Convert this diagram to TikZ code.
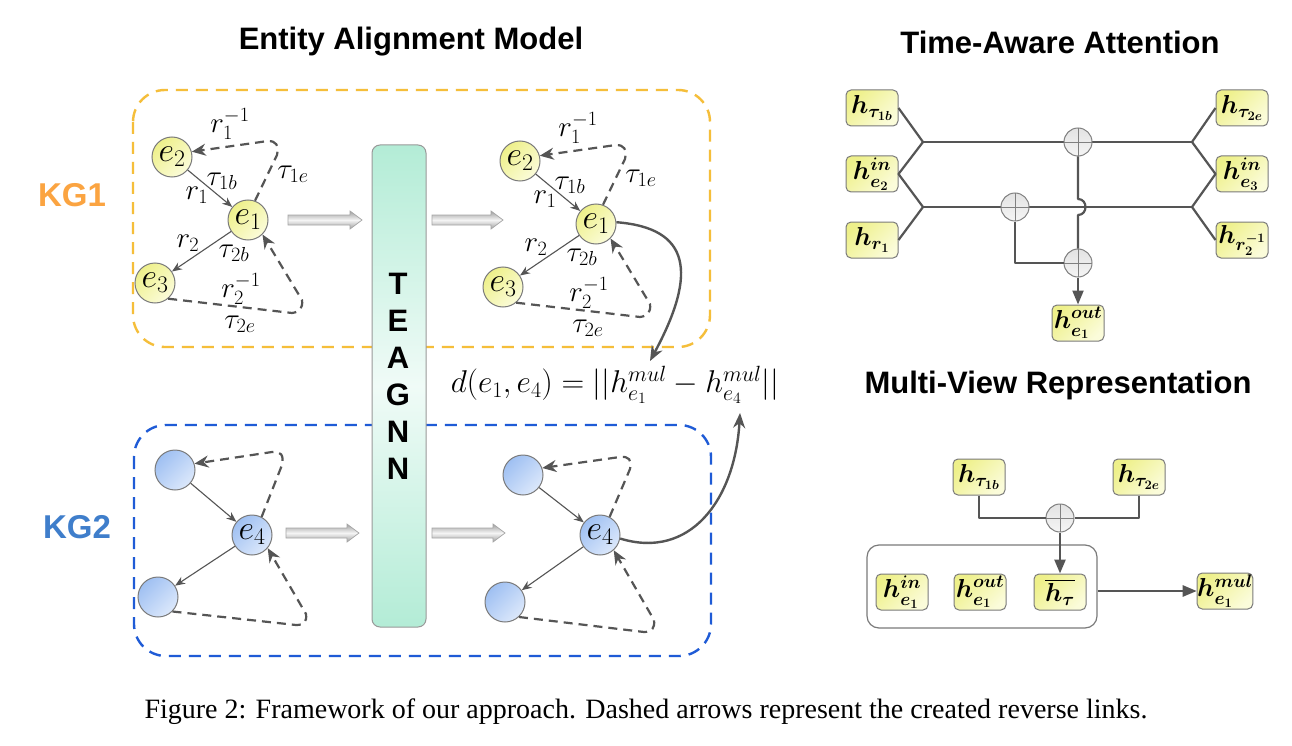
\documentclass[tikz,border=0pt]{standalone}
\usepackage{fix-cm}
\usepackage[no-math]{fontspec}
\setmainfont{Liberation Serif}
\newfontfamily\arialfam{Liberation Sans}
\usepackage{amsmath}
\usepackage{graphicx}
\usetikzlibrary{arrows.meta,calc}
\definecolor{kgorange}{HTML}{F5BE3A}
\definecolor{kgolabel}{HTML}{FBA441}
\definecolor{kgblue}{HTML}{1F5BD6}
\definecolor{kgblabel}{HTML}{3F7ECB}
\definecolor{ylwA}{HTML}{EEF08A}
\definecolor{ylwB}{HTML}{FBFCDA}
\definecolor{bluA}{HTML}{9FC0F2}
\definecolor{bluB}{HTML}{DCE8FB}
\definecolor{mint}{HTML}{B3ECD6}
\definecolor{mintW}{HTML}{F0FBF7}
\definecolor{wire}{HTML}{555555}
\definecolor{edgegray}{HTML}{7A7A7A}
\newcommand\mylblfont{\fontsize{29}{31}\selectfont}
\newcommand\mynodefont{\fontsize{34}{36}\selectfont}
\newcommand\myhfont{\fontsize{26}{28}\selectfont\boldmath}
\newcommand\mytitlefont{\arialfam\bfseries\fontsize{31}{34}\selectfont}
\tikzset{
  gnode/.style={circle, draw=edgegray, line width=1pt, minimum size=40pt, inner sep=0pt, font=\mynodefont},
  ynode/.style={gnode, top color=ylwA, bottom color=ylwB, shading angle=45},
  bnode/.style={gnode, top color=bluA, bottom color=bluB, shading angle=45},
  sline/.style={draw=wire, line width=1.1pt, -{Stealth[length=10pt,width=8pt]}},
  dline/.style={draw=wire, line width=2.2pt, dash pattern=on 9pt off 6pt, -{Stealth[length=14pt,width=12pt]}},
  bline/.style={draw=wire, line width=2.4pt, -{Stealth[length=15pt,width=12pt]}},
  lbl/.style={font=\mylblfont, inner sep=0pt},
  blk/.style={draw=gray!70, line width=0.7pt, top color=gray!75, bottom color=gray!75, middle color=gray!8},
  kgbox/.style={rounded corners=32pt, line width=2.4pt, dash pattern=on 12pt off 8pt},
  hbox/.style={rounded corners=5pt, draw=edgegray, line width=1pt, top color=ylwA, bottom color=ylwB, shading angle=45, minimum width=52pt, minimum height=36pt, inner sep=0pt, font=\myhfont},
  oplus/.style={circle, draw=gray, line width=1pt, minimum size=28pt, inner sep=0pt, top color=gray!22, bottom color=gray!8,
     path picture={\draw[gray, line width=0.8pt] (path picture bounding box.north) -- (path picture bounding box.south) (path picture bounding box.west) -- (path picture bounding box.east);}},
  wireline/.style={draw=wire, line width=2.2pt, line join=round},
  wtip/.style={-{Triangle[length=14pt,width=11pt]}},
  title/.style={font=\mytitlefont, inner sep=0pt},
}
\newcommand\KGone[2]{%
\begin{scope}[shift={(#2)}]
 \node[ynode] (e2#1) at (172,157) {$e_2$};
 \node[ynode] (e1#1) at (248,220) {$e_1$};
 \node[ynode] (e3#1) at (155,283) {$e_3$};
 \draw[sline] (e2#1) -- (e1#1);
 \draw[sline] (e1#1) -- (e3#1);
 \draw[dline] (e1#1.70) -- (277,155) .. controls (279,145) and (276,141) .. (268,141) -- (e2#1.15);
 \draw[dline] (e3#1.-50) -- (292,313) .. controls (300,312) and (303,308) .. (302,300) -- (e1#1.-45);
 \node[lbl] (r1i#1) at (230,124) {$r_1^{-1}$};
 \node[lbl] (t1e#1) at (293,174) {$\tau_{1e}$};
 \node[lbl] (t1b#1) at (222,181) {$\tau_{1b}$};
 \node[lbl] (r1#1) at (197,195) {$r_1$};
 \node[lbl] (r2#1) at (188,243) {$r_2$};
 \node[lbl] (t2b#1) at (234,253) {$\tau_{2b}$};
 \node[lbl] (r2i#1) at (241,289) {$r_2^{-1}$};
 \node[lbl] (t2e#1) at (240,324) {$\tau_{2e}$};
\end{scope}}
\begin{document}
\begin{tikzpicture}[x=1pt,y=-1pt]
\useasboundingbox[fill=white] (0,0) rectangle (1292,746);

% titles
\node[title] (t1) at (411,42) {Entity Alignment Model};
\node[title] (t2) at (1060,42) {Time-Aware Attention};
\node[title] (t3) at (1058,385) {Multi-View Representation};
\node[font=\arialfam\bfseries\fontsize{33}{36}\selectfont, text=kgolabel, inner sep=0pt] (kg1lbl) at (72,195) {KG1};
\node[font=\arialfam\bfseries\fontsize{33}{36}\selectfont, text=kgblabel, inner sep=0pt] (kg2lbl) at (77,527) {KG2};

% KG boxes
\draw[kgbox, draw=kgorange] (133,90) rectangle (710,347);
\draw[kgbox, draw=kgblue] (134,425) rectangle (711,656);

% TEA GNN bar
\node[rectangle, rounded corners=8pt, draw=gray!80, line width=1pt, minimum width=54pt, minimum height=482pt,
  top color=mint, bottom color=mint, middle color=mintW] (gnn) at (399,386) {};
\node[font=\arialfam\bfseries\fontsize{31}{37}\selectfont, align=center, inner sep=0pt] (gnnlbl) at (398,376) {T\\E\\A\\G\\N\\N};

% block arrows
\path[blk] (288,215) -- (350,215) -- (350,211) -- (362,220) -- (350,229) -- (350,225) -- (288,225) -- cycle;
\path[blk] (432,215) -- (491,215) -- (491,211) -- (503,220) -- (491,229) -- (491,225) -- (432,225) -- cycle;
\path[blk] (286,528) -- (347,528) -- (347,524) -- (359,533) -- (347,542) -- (347,538) -- (286,538) -- cycle;
\path[blk] (432,528) -- (493,528) -- (493,524) -- (505,533) -- (493,542) -- (493,538) -- (432,538) -- cycle;

% KG1 graphs
\KGone{a}{0,0}
\KGone{b}{348,4}

% KG2 left
\node[bnode] (b1a) at (175,470) {};
\node[bnode] (e4a) at (252,535) {$e_4$};
\node[bnode] (b3a) at (158,597) {};
\draw[sline] (b1a) -- (e4a);
\draw[sline] (e4a) -- (b3a);
\draw[dline] (e4a.62) -- (282,465) .. controls (284,455) and (281,451) .. (272,452) -- (b1a.18);
\draw[dline] (b3a.-45) -- (296,625) .. controls (304,625) and (307,622) .. (306,614) -- (e4a.-40);
% KG2 right
\node[bnode] (b1b) at (523,475) {};
\node[bnode] (e4b) at (600,535) {$e_4$};
\node[bnode] (b3b) at (505,602) {};
\draw[sline] (b1b) -- (e4b);
\draw[sline] (e4b) -- (b3b);
\draw[dline] (e4b.62) -- (630,469) .. controls (632,460) and (629,456) .. (620,457) -- (b1b.20);
\draw[dline] (b3b.-47) -- (644,632) .. controls (652,632) and (655,628) .. (654,620) -- (e4b.-48);

% formula and curves
\node[font=\fontsize{31.5}{34}\selectfont, inner sep=0pt] (dist) at (615,385) {$d(e_1,e_4)=||h^{mul}_{e_1}-h^{mul}_{e_4}||$};
\coordinate (dtop) at (650,361);
\coordinate (dbot) at (740,413);
\draw[bline] (e1b.5) .. controls (690,228) and (698,272) .. (dtop);
\draw[bline] (e4b.-10) .. controls (690,560) and (735,500) .. (dbot);

% Time-aware attention
\node[hbox] (tb) at (872,108) {$h_{\tau_{1b}}$};
\node[hbox] (ein2) at (872,174) {$h^{in}_{e_2}$};
\node[hbox] (hr1) at (872,240) {$h_{r_1}$};
\node[hbox] (te) at (1242,108) {$h_{\tau_{2e}}$};
\node[hbox] (ein3) at (1242,174) {$h^{in}_{e_3}$};
\node[hbox] (hr2) at (1242,240) {$h_{r_2^{-1}}$};
\node[hbox] (hout) at (1078,323) {$h^{out}_{e_1}$};
\coordinate (J1) at (923,142);
\coordinate (J2) at (923,207);
\coordinate (J3) at (1192,142);
\coordinate (J4) at (1192,207);
\draw[wireline] (tb.east) -- (J1) -- (ein2.east) -- (J2) -- (hr1.east);
\draw[wireline] (te.west) -- (J3) -- (ein3.west) -- (J4) -- (hr2.west);
\draw[wireline] (J1) -- (J3);
\draw[wireline] (J2) -- (J4);
\node[oplus] (o1) at (1078,142) {};
\node[oplus] (o2) at (1015,207) {};
\node[oplus] (o3) at (1078,263) {};
\draw[wireline] (o1.south) -- (1078,199) .. controls (1088,199) and (1088,215) .. (1078,215) -- (o3.north);
\draw[wireline] (o2.south) |- (o3.west);
\draw[wireline, wtip] (o3.south) -- (hout.north);

% Multi-view representation
\node[rectangle, rounded corners=12pt, draw=edgegray, line width=1.2pt, fill=white, minimum width=230pt, minimum height=83pt] (mv) at (982,586.5) {};
\node[hbox] (m1) at (979,477) {$h_{\tau_{1b}}$};
\node[hbox] (m2) at (1139,477) {$h_{\tau_{2e}}$};
\node[oplus] (o4) at (1060,518) {};
\draw[wireline, line width=2.5pt] (m1.south) |- (o4.west);
\draw[wireline, line width=2.5pt] (m2.south) |- (o4.east);
\node[hbox] (mi) at (902,592) {$h^{in}_{e_1}$};
\node[hbox] (mo) at (980,592) {$h^{out}_{e_1}$};
\node[hbox] (mt) at (1060,592) {$\overline{h_\tau}$};
\node[hbox] (mm) at (1225,591) {$h^{mul}_{e_1}$};
\draw[wireline, line width=2.5pt, wtip] (o4.south) -- (mt.north);
\draw[wireline, line width=2.5pt, wtip] (mm.west -| mv.east) -- (mm.west);

% caption
\node[font=\fontsize{28}{30}\selectfont, inner sep=0pt] (cap) at (646,712) {Figure 2: Framework of our approach. Dashed arrows represent the created reverse links.};
\end{tikzpicture}
\end{document}
